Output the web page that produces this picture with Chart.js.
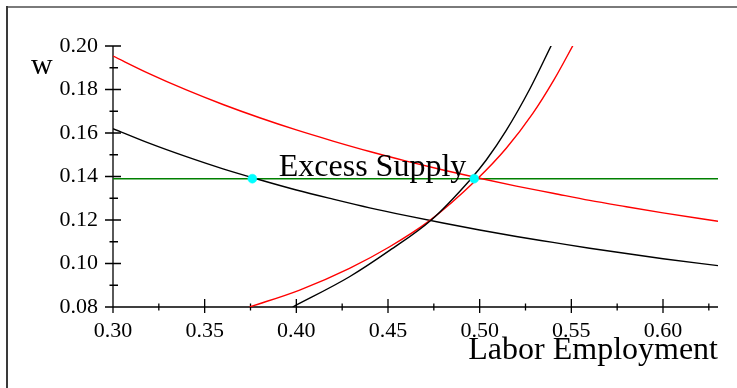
<!DOCTYPE html>
<html>
<head>
<meta charset="utf-8">
<script src="https://cdn.jsdelivr.net/npm/chart.js@4"></script>
<style>
  html, body { margin: 0; padding: 0; background: #fff; }
  #wrap { position: relative; width: 737px; height: 388px; }
</style>
</head>
<body>
<div id="wrap"><canvas id="myChart" width="737" height="388"></canvas></div>
<script>
const xTicks = [0.30, 0.35, 0.40, 0.45, 0.50, 0.55, 0.60];
const xMinor = [0.325, 0.375, 0.425, 0.475, 0.525, 0.575, 0.625];
const yTicks = [0.08, 0.10, 0.12, 0.14, 0.16, 0.18, 0.20];
const yMinor = [0.09, 0.11, 0.13, 0.15, 0.17, 0.19];

// demand curves
const demandL = [0.30, 0.32, 0.34, 0.36, 0.38, 0.40, 0.42, 0.44, 0.46, 0.48, 0.50, 0.52, 0.54, 0.56, 0.58, 0.60, 0.63];
const demandBlack = [0.162, 0.1552, 0.1491, 0.1435, 0.1385, 0.1338, 0.1296, 0.1256, 0.1220, 0.1186, 0.1154, 0.1124, 0.1097, 0.1070, 0.1046, 0.1022, 0.0990];
const demandRed = [0.1954, 0.1872, 0.1798, 0.1731, 0.1670, 0.1614, 0.1563, 0.1515, 0.1471, 0.1430, 0.1392, 0.1356, 0.1323, 0.1290, 0.1261, 0.1233, 0.1194];

// supply curves
const supplyBlackL = [0.398, 0.429, 0.4509, 0.4736, 0.4945, 0.5036, 0.5145, 0.5272, 0.5395];
const supplyBlack = [0.080, 0.0939, 0.1060, 0.1200, 0.1382, 0.1476, 0.1612, 0.1800, 0.2010];
const supplyRedL = [0.3745, 0.4018, 0.429, 0.4509, 0.4727, 0.4981, 0.5145, 0.529, 0.5405, 0.5515];
const supplyRed = [0.080, 0.0878, 0.0978, 0.1077, 0.1197, 0.1384, 0.1530, 0.1690, 0.1844, 0.2012];

const wageLevel = 0.139;
const wageRange = [0.30, 0.63];
const eqLabor = [0.376, 0.497];

const pairs = (xs, ys) => xs.map((x, i) => ({ x: x, y: ys[i] }));

const serif = '"Liberation Serif", "DejaVu Serif", serif';
Chart.defaults.font.family = serif;
Chart.defaults.font.size = 22;
Chart.defaults.color = '#000';

const frameAndAxes = {
  id: 'frameAndAxes',
  beforeDatasetsDraw(chart) {
    const c = chart.ctx;
    const xs = chart.scales.x, ys = chart.scales.y;
    const x0 = xs.getPixelForValue(0.30), y0 = ys.getPixelForValue(0.08);
    c.save();
    // frame
    c.fillStyle = '#7a7a7a';
    c.fillRect(6, 6, chart.width - 6, 2);
    c.fillStyle = '#3a3a3a';
    c.fillRect(6, 6, 2, chart.height - 6);
    // axes
    c.strokeStyle = '#000';
    c.lineWidth = 1.3;
    c.beginPath();
    c.moveTo(x0, ys.getPixelForValue(0.20));
    c.lineTo(x0, y0);
    c.lineTo(xs.getPixelForValue(0.63), y0);
    yTicks.forEach(v => { const p = ys.getPixelForValue(v); c.moveTo(x0 - 8, p); c.lineTo(x0 + 8, p); });
    yMinor.forEach(v => { const p = ys.getPixelForValue(v); c.moveTo(x0 - 3.5, p); c.lineTo(x0 + 5, p); });
    xTicks.forEach(v => { const p = xs.getPixelForValue(v); c.moveTo(p, y0 - 8); c.lineTo(p, y0 + 6); });
    xMinor.forEach(v => { const p = xs.getPixelForValue(v); c.moveTo(p, y0 - 3.5); c.lineTo(p, y0 + 3.5); });
    c.stroke();
    c.restore();
  },
  afterDatasetsDraw(chart) {
    const c = chart.ctx;
    const xs = chart.scales.x, ys = chart.scales.y;
    c.save();
    c.fillStyle = '#000';
    c.textBaseline = 'alphabetic';
    c.font = '32px ' + serif;
    c.textAlign = 'left';
    c.fillText('Excess Supply', xs.getPixelForValue(0.3904), ys.getPixelForValue(0.1402));
    c.textAlign = 'right';
    c.fillText('Labor Employment', chart.chartArea.right, chart.chartArea.bottom + 52);
    c.textAlign = 'left';
    c.font = '30px ' + serif;
    c.fillText('w', 31, 74);
    c.restore();
  }
};

// first dataset is drawn on top
new Chart(document.getElementById('myChart'), {
  type: 'line',
  data: {
    datasets: [
      { data: pairs(eqLabor, [wageLevel, wageLevel]), showLine: false, pointRadius: 4.5, pointBackgroundColor: '#00ffff', pointBorderColor: '#00ffff', pointBorderWidth: 0.5 },
      { data: pairs(demandL, demandRed), borderColor: '#ff0000', borderWidth: 1.4, pointRadius: 0, cubicInterpolationMode: 'monotone' },
      { data: pairs(supplyBlackL, supplyBlack), borderColor: '#000000', borderWidth: 1.4, pointRadius: 0, cubicInterpolationMode: 'monotone' },
      { data: pairs(supplyRedL, supplyRed), borderColor: '#ff0000', borderWidth: 1.4, pointRadius: 0, cubicInterpolationMode: 'monotone' },
      { data: pairs(demandL, demandBlack), borderColor: '#000000', borderWidth: 1.4, pointRadius: 0, cubicInterpolationMode: 'monotone' },
      { data: pairs(wageRange, [wageLevel, wageLevel]), borderColor: '#008000', borderWidth: 1.4, pointRadius: 0 }
    ]
  },
  options: {
    responsive: false,
    animation: false,
    events: [],
    layout: { padding: { left: 13, right: 19, top: 46, bottom: 0 } },
    plugins: { legend: { display: false }, tooltip: { enabled: false } },
    scales: {
      x: {
        type: 'linear', min: 0.30, max: 0.63,
        grid: { display: false, drawTicks: false },
        border: { display: false },
        afterFit: s => { s.height = 81; },
        afterBuildTicks: s => { s.ticks = xTicks.map(v => ({ value: v })); },
        ticks: { padding: 11, maxRotation: 0, autoSkip: false, callback: v => v.toFixed(2) }
      },
      y: {
        type: 'linear', min: 0.08, max: 0.20,
        grid: { display: false, drawTicks: false },
        border: { display: false },
        afterFit: s => { s.width = 100; },
        afterBuildTicks: s => { s.ticks = yTicks.map(v => ({ value: v })); },
        ticks: { padding: 15, autoSkip: false, callback: v => v.toFixed(2) }
      }
    }
  },
  plugins: [frameAndAxes]
});
</script>
</body>
</html>
